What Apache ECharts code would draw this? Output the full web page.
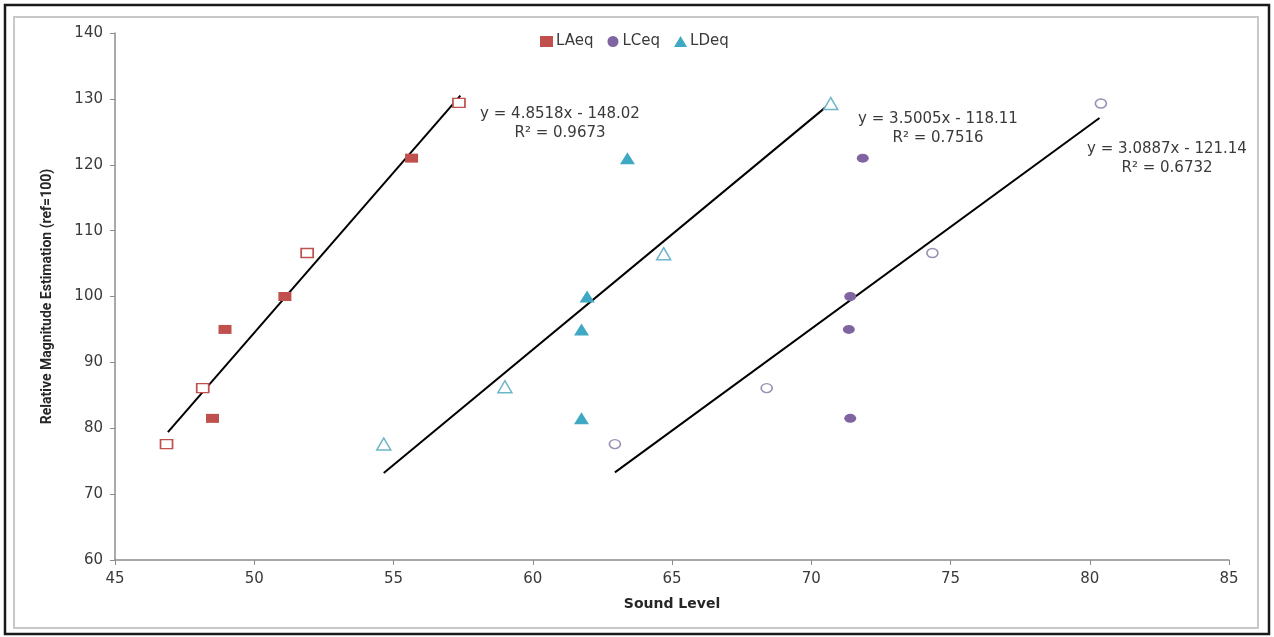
<!DOCTYPE html>
<html>
<head>
<meta charset="utf-8">
<script src="https://cdn.jsdelivr.net/npm/echarts@6/dist/echarts.min.js"></script>
<style>
html,body{margin:0;padding:0;background:#fff;}
#chart{width:1274px;height:637px;}
</style>
</head>
<body>
<div id="chart"></div>
<script>
// x tick values and y tick values
const xTicks = [45, 50, 55, 60, 65, 70, 75, 80, 85];
const yTicks = [60, 70, 80, 90, 100, 110, 120, 130, 140];

// LAeq: filled and open squares [sound level, estimation]
const laeqFilled = [[48.5, 81.5], [48.95, 95], [51.1, 100], [55.65, 121]];
const laeqOpen = [[46.85, 77.6], [48.15, 86.1], [51.9, 106.6], [57.35, 129.4]];
// LCeq: filled and open circles
const lceqFilled = [[71.85, 121], [71.4, 100], [71.35, 95], [71.4, 81.5]];
const lceqOpen = [[62.95, 77.6], [68.4, 86.1], [74.35, 106.6], [80.4, 129.3]];
// LDeq: filled and open triangles
const ldeqFilled = [[61.95, 100], [61.75, 95], [61.75, 81.5], [63.4, 121]];
const ldeqOpen = [[54.65, 77.6], [59.0, 86.3], [64.7, 106.5], [70.7, 129.3]];

// trend line end points
const laeqTrend = [[46.9, 79.4], [57.4, 130.5]];
const ldeqTrend = [[54.65, 73.2], [70.65, 129.2]];
const lceqTrend = [[62.95, 73.3], [80.35, 127.1]];

// trend equation labels
const eqLabels = [
  'y = 4.8518x - 148.02\nR² = 0.9673',
  'y = 3.5005x - 118.11\nR² = 0.7516',
  'y = 3.0887x - 121.14\nR² = 0.6732'
];

const RED = '#c0504d', PURPLE = '#8064a2', TEAL = '#3fa9c4';
const FONT = 'DejaVu Sans';

const chart = echarts.init(document.getElementById('chart'));

function trend(data) {
  return {
    type: 'line', data: data, symbol: 'none', silent: true,
    lineStyle: { color: '#000', width: 2 }, z: 1
  };
}

const eqFont = '15px "DejaVu Sans"';

chart.setOption({
  animation: false,
  backgroundColor: '#fff',
  textStyle: { fontFamily: FONT },
  grid: { left: 115, right: 45, top: 33, bottom: 77 },
  legend: {
    data: [
      { name: 'LAeq', icon: 'rect' },
      { name: 'LCeq', icon: 'circle' },
      { name: 'LDeq', icon: 'triangle' }
    ],
    top: 29, left: 535,
    itemWidth: 13, itemHeight: 11, itemGap: 14,
    textStyle: { fontFamily: FONT, fontSize: 15, color: '#3a3a3a', padding: [0, 0, 0, -2] }
  },
  xAxis: {
    type: 'value', min: 45, max: 85, interval: 5,
    name: 'Sound Level', nameLocation: 'middle', nameGap: 37,
    nameTextStyle: { fontFamily: FONT, fontSize: 14, fontWeight: 'bold', color: '#262626' },
    axisLine: { lineStyle: { color: '#8c8c8c', width: 1.5 } },
    axisTick: { show: true, length: 5, lineStyle: { color: '#8c8c8c' } },
    axisLabel: { fontFamily: FONT, fontSize: 15, color: '#3a3a3a', margin: 12,
      formatter: v => xTicks.includes(v) ? String(v) : '' },
    splitLine: { show: false }
  },
  yAxis: {
    type: 'value', min: 60, max: 140, interval: 10,
    name: 'Relative Magnitude Estimation (ref=100)', nameLocation: 'middle', nameGap: 61,
    nameRotate: 90,
    nameTextStyle: { fontFamily: 'Roboto', fontSize: 14, fontWeight: 'bold', color: '#262626' },
    axisLine: { show: true, lineStyle: { color: '#8c8c8c', width: 1.5 } },
    axisTick: { show: true, length: 5, lineStyle: { color: '#8c8c8c' } },
    axisLabel: { fontFamily: FONT, fontSize: 15, color: '#3a3a3a', margin: 12,
      formatter: v => yTicks.includes(v) ? String(v) : '' },
    splitLine: { show: false }
  },
  graphic: [
    { type: 'rect', shape: { x: 5, y: 5, width: 1264, height: 629 }, silent: true,
      style: { fill: 'none', stroke: '#1a1a1a', lineWidth: 2.5 }, z: 100 },
    { type: 'rect', shape: { x: 14, y: 17, width: 1244, height: 611 }, silent: true,
      style: { fill: 'none', stroke: '#c8c8c8', lineWidth: 2 }, z: 100 },
    { type: 'text', x: 560, y: 105, silent: true, z: 100,
      style: { text: eqLabels[0], font: eqFont, fill: '#3a3a3a', textAlign: 'center', textVerticalAlign: 'top', lineHeight: 19 } },
    { type: 'text', x: 938, y: 110, silent: true, z: 100,
      style: { text: eqLabels[1], font: eqFont, fill: '#3a3a3a', textAlign: 'center', textVerticalAlign: 'top', lineHeight: 19 } },
    { type: 'text', x: 1167, y: 140, silent: true, z: 100,
      style: { text: eqLabels[2], font: eqFont, fill: '#3a3a3a', textAlign: 'center', textVerticalAlign: 'top', lineHeight: 19 } }
  ],
  series: [
    trend(laeqTrend), trend(ldeqTrend), trend(lceqTrend),
    { name: 'LAeq', type: 'scatter', data: laeqFilled, symbol: 'rect', symbolSize: [13, 9],
      itemStyle: { color: RED, opacity: 1 }, z: 3 },
    { name: 'LAeq open', type: 'scatter', data: laeqOpen, symbol: 'rect', symbolSize: [12, 9],
      itemStyle: { color: '#fff', borderColor: RED, borderWidth: 1.5, opacity: 1 }, z: 3 },
    { name: 'LCeq', type: 'scatter', data: lceqFilled, symbol: 'circle', symbolSize: [12, 9],
      itemStyle: { color: PURPLE, opacity: 1 }, z: 3 },
    { name: 'LCeq open', type: 'scatter', data: lceqOpen, symbol: 'circle', symbolSize: [11, 9],
      itemStyle: { color: '#fff', borderColor: '#9a90b4', borderWidth: 1.5, opacity: 1 }, z: 3 },
    { name: 'LDeq', type: 'scatter', data: ldeqFilled, symbol: 'triangle', symbolSize: [15, 12],
      itemStyle: { color: TEAL, opacity: 1 }, z: 3 },
    { name: 'LDeq open', type: 'scatter', data: ldeqOpen, symbol: 'triangle', symbolSize: [14, 12],
      itemStyle: { color: '#fff', borderColor: '#6fb5c8', borderWidth: 1.5, opacity: 1 }, z: 3 }
  ]
});
</script>
</body>
</html>
